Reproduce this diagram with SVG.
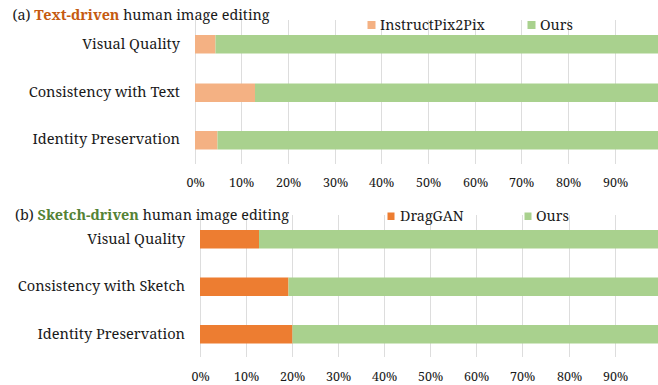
<svg xmlns="http://www.w3.org/2000/svg" width="658" height="385" viewBox="0 0 658 385">
<style>
.lbl{font-size:14.6px;text-anchor:end}
.ttl{font-size:14.4px}
.leg{font-size:14.3px}
.ax{font-size:12.5px;text-anchor:middle}
.grid{stroke:#dddddd;stroke-width:1}
.lo{fill:#F4B183}
.do{fill:#ED7D31}
.gr{fill:#A9D18E}
</style>
<rect width="658" height="385" fill="#ffffff"/>
<g font-family="'Noto Serif', 'Liberation Serif', serif" fill="#1a1a1a">
<g id="chart-a">
  <g id="grid-a">
    <line class="grid" x1="195.5" y1="20" x2="195.5" y2="164"/>
    <line class="grid" x1="241.5" y1="20" x2="241.5" y2="164"/>
    <line class="grid" x1="288.5" y1="20" x2="288.5" y2="164"/>
    <line class="grid" x1="335.5" y1="20" x2="335.5" y2="164"/>
    <line class="grid" x1="381.5" y1="20" x2="381.5" y2="164"/>
    <line class="grid" x1="428.5" y1="20" x2="428.5" y2="164"/>
    <line class="grid" x1="475.5" y1="20" x2="475.5" y2="164"/>
    <line class="grid" x1="521.5" y1="20" x2="521.5" y2="164"/>
    <line class="grid" x1="568.5" y1="20" x2="568.5" y2="164"/>
    <line class="grid" x1="615.5" y1="20" x2="615.5" y2="164"/>
  </g>
  <text class="ttl" x="12.5" y="20">(a) <tspan font-weight="bold" fill="#C55A11">Text-driven</tspan> human image editing</text>
  <g id="legend-a">
    <rect class="lo" x="367.5" y="21" width="8" height="8"/>
    <text class="leg" x="380" y="29.5">InstructPix2Pix</text>
    <rect class="gr" x="527.5" y="21" width="8" height="8"/>
    <text class="leg" x="540" y="29.5">Ours</text>
  </g>
  <g id="a-visual-quality">
    <text class="lbl" x="180" y="48.5">Visual Quality</text>
    <rect class="lo" x="195" y="35" width="20.5" height="18.5"/>
    <rect class="gr" x="215.5" y="35" width="442.5" height="18.5"/>
  </g>
  <g id="a-consistency">
    <text class="lbl" x="180" y="96.5">Consistency with Text</text>
    <rect class="lo" x="195" y="83.5" width="60" height="18.5"/>
    <rect class="gr" x="255" y="83.5" width="403" height="18.5"/>
  </g>
  <g id="a-identity">
    <text class="lbl" x="180" y="144">Identity Preservation</text>
    <rect class="lo" x="195" y="131" width="22.5" height="18.5"/>
    <rect class="gr" x="217.5" y="131" width="440.5" height="18.5"/>
  </g>
  <g id="axis-a">
    <text class="ax" x="195.5" y="187">0%</text>
    <text class="ax" x="241.5" y="187">10%</text>
    <text class="ax" x="288.5" y="187">20%</text>
    <text class="ax" x="335.5" y="187">30%</text>
    <text class="ax" x="381.5" y="187">40%</text>
    <text class="ax" x="428.5" y="187">50%</text>
    <text class="ax" x="475.5" y="187">60%</text>
    <text class="ax" x="521.5" y="187">70%</text>
    <text class="ax" x="568.5" y="187">80%</text>
    <text class="ax" x="615.5" y="187">90%</text>
  </g>
</g>

<g id="chart-b">
  <g id="grid-b">
    <line class="grid" x1="200.5" y1="215" x2="200.5" y2="357"/>
    <line class="grid" x1="246.5" y1="215" x2="246.5" y2="357"/>
    <line class="grid" x1="292.5" y1="215" x2="292.5" y2="357"/>
    <line class="grid" x1="338.5" y1="215" x2="338.5" y2="357"/>
    <line class="grid" x1="384.5" y1="215" x2="384.5" y2="357"/>
    <line class="grid" x1="430.5" y1="215" x2="430.5" y2="357"/>
    <line class="grid" x1="476.5" y1="215" x2="476.5" y2="357"/>
    <line class="grid" x1="522.5" y1="215" x2="522.5" y2="357"/>
    <line class="grid" x1="569.5" y1="215" x2="569.5" y2="357"/>
    <line class="grid" x1="615.5" y1="215" x2="615.5" y2="357"/>
  </g>
  <text class="ttl" x="15" y="220">(b) <tspan font-weight="bold" fill="#548235">Sketch-driven</tspan> human image editing</text>
  <g id="legend-b">
    <rect class="do" x="387.5" y="212.5" width="7" height="7.5"/>
    <text class="leg" x="400" y="221">DragGAN</text>
    <rect class="gr" x="524.5" y="212.5" width="7" height="7.5"/>
    <text class="leg" x="536" y="221">Ours</text>
  </g>
  <g id="b-visual-quality">
    <text class="lbl" x="185" y="243.5">Visual Quality</text>
    <rect class="do" x="200" y="230" width="59" height="18.5"/>
    <rect class="gr" x="259" y="230" width="399" height="18.5"/>
  </g>
  <g id="b-consistency">
    <text class="lbl" x="185" y="291">Consistency with Sketch</text>
    <rect class="do" x="200" y="277.5" width="88.5" height="18.5"/>
    <rect class="gr" x="288.5" y="277.5" width="369.5" height="18.5"/>
  </g>
  <g id="b-identity">
    <text class="lbl" x="185" y="338.5">Identity Preservation</text>
    <rect class="do" x="200" y="325" width="92.5" height="18.5"/>
    <rect class="gr" x="292.5" y="325" width="365.5" height="18.5"/>
  </g>
  <g id="axis-b">
    <text class="ax" x="200.5" y="381">0%</text>
    <text class="ax" x="246.5" y="381">10%</text>
    <text class="ax" x="292.5" y="381">20%</text>
    <text class="ax" x="338.5" y="381">30%</text>
    <text class="ax" x="384.5" y="381">40%</text>
    <text class="ax" x="430.5" y="381">50%</text>
    <text class="ax" x="476.5" y="381">60%</text>
    <text class="ax" x="522.5" y="381">70%</text>
    <text class="ax" x="569.5" y="381">80%</text>
    <text class="ax" x="615.5" y="381">90%</text>
  </g>
</g>
</g>
</svg>
